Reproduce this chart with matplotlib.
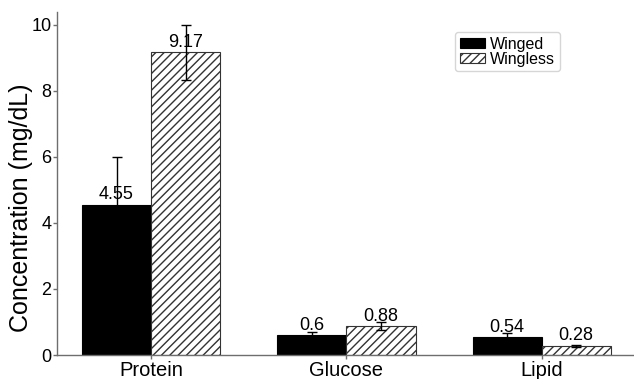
import matplotlib
matplotlib.use("Agg")
import matplotlib.pyplot as plt
import numpy as np

plt.rcParams['font.family'] = ['Liberation Sans', 'DejaVu Sans']
plt.rcParams['hatch.linewidth'] = 1.0

categories = ["Protein", "Glucose", "Lipid"]
winged = [4.55, 0.60, 0.54]
wingless = [9.17, 0.88, 0.28]
winged_err = [1.45, 0.11, 0.14]
wingless_err = [0.83, 0.12, 0.03]
winged_labels = ["4.55", "0.6", "0.54"]
wingless_labels = ["9.17", "0.88", "0.28"]
yticks = [0, 2, 4, 6, 8, 10]

fig = plt.figure(figsize=(6.34, 3.79), dpi=100)
ax = fig.add_axes([0.0899, 0.0633, 0.908, 0.905])

x = np.arange(len(categories))
w = 0.354
spine_col = '#6e6e6e'

ax.bar(x - w/2, winged, w, color='black', edgecolor='black', linewidth=0.8, label='Winged')
ax.bar(x + w/2, wingless, w, color='white', edgecolor='#333333', linewidth=0.8,
       hatch='////', label='Wingless')
ax.errorbar(x - w/2, winged, yerr=winged_err, fmt='none', ecolor='black', elinewidth=1, capsize=3.5, capthick=1)
ax.errorbar(x + w/2, wingless, yerr=wingless_err, fmt='none', ecolor='black', elinewidth=1, capsize=3.5, capthick=1)

for xi, v, t in zip(x - w/2, winged, winged_labels):
    ax.annotate(t, (xi, v), xytext=(0, 1), textcoords='offset points', ha='center', va='bottom', fontsize=13)
for xi, v, t in zip(x + w/2, wingless, wingless_labels):
    ax.annotate(t, (xi, v), xytext=(0, 1), textcoords='offset points', ha='center', va='bottom', fontsize=13)

ax.set_xlim(-0.482, 2.466)
ax.set_ylim(0, 10.39)
ax.set_yticks(yticks)
ax.set_xticks(x)
ax.set_xticklabels(categories, fontsize=14.5)
ax.tick_params(axis='y', labelsize=13, length=3, color=spine_col, width=1, pad=1)
ax.tick_params(axis='x', length=3, color=spine_col, width=1, pad=1)
ax.set_ylabel("Concentration (mg/dL)", fontsize=18, labelpad=1)
ax.yaxis.set_label_coords(-0.041, 0.43)

for s in ['top', 'right']:
    ax.spines[s].set_visible(False)
for s in ['left', 'bottom']:
    ax.spines[s].set_color(spine_col)
    ax.spines[s].set_linewidth(1)

leg = ax.legend(loc='upper left', bbox_to_anchor=(0.691, 0.942), fontsize=11.5, frameon=True,
                handlelength=1.6, handleheight=0.55, handletextpad=0.3, borderpad=0.3,
                labelspacing=0.0, fancybox=True, borderaxespad=0)
leg.get_frame().set_edgecolor('#cccccc')
leg.get_frame().set_linewidth(1)

fig.savefig("out.png", dpi=100)
